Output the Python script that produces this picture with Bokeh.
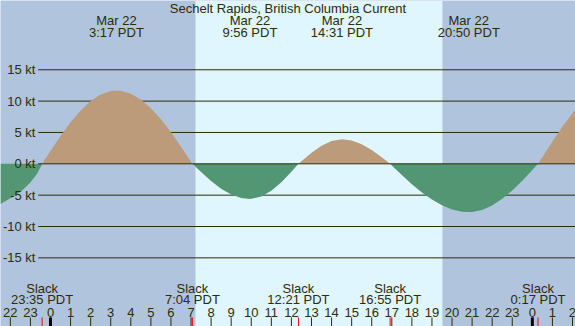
import numpy as np
from bokeh.plotting import figure
from bokeh.models import Range1d
from bokeh.core.properties import value
from bokeh.embed import file_html
from bokeh.resources import INLINE

# ---- data ----
title = "Sechelt Rapids, British Columbia Current"
hours = [-2.49, -2.0, -1.5, -1.0, -0.66, -0.5, -0.417, 0.0, 0.5, 1.0, 1.5, 2.0, 2.5, 3.0,
         3.283, 3.5, 4.0, 4.5, 5.0, 5.5, 6.0, 6.5, 7.0, 7.067, 7.5, 8.0, 8.5, 9.0, 9.5,
         9.933, 10.0, 10.5, 11.0, 11.5, 12.0, 12.35, 12.5, 13.0, 13.5, 14.0, 14.517, 15.0,
         15.5, 16.0, 16.5, 16.917, 17.0, 17.5, 18.0, 18.5, 19.0, 19.5, 20.0, 20.5, 20.833,
         21.0, 21.5, 22.0, 22.5, 23.0, 23.5, 24.0, 24.283, 24.5, 25.0, 25.5, 26.0, 26.15]
knots = [-6.4, -5.5, -4.5, -3.0, -1.55, -0.53, 0.0, 2.06, 4.44, 6.62, 8.5, 10.0, 11.06, 11.62,
         11.7, 11.65, 11.18, 10.24, 8.86, 7.09, 5.02, 2.73, 0.33, 0.0, -1.32, -2.74, -3.96,
         -4.89, -5.44, -5.6, -5.59, -5.22, -4.31, -2.94, -1.26, 0.0, 0.42, 1.77, 2.89, 3.63,
         3.9, 3.71, 3.12, 2.2, 1.05, 0.0, -0.26, -1.79, -3.24, -4.57, -5.71, -6.62, -7.28,
         -7.63, -7.7, -7.68, -7.35, -6.64, -5.58, -4.25, -2.69, -0.99, 0.0, 1.05, 3.55, 5.95,
         8.05, 8.6]
extreme_times = [3.283, 9.933, 14.517, 20.833]
extreme_labels = ["3:17 PDT", "9:56 PDT", "14:31 PDT", "20:50 PDT"]
extreme_date = "Mar 22"
slack_times = [-0.417, 7.067, 12.35, 16.917, 24.283]
slack_labels = ["23:35 PDT", "7:04 PDT", "12:21 PDT", "16:55 PDT", "0:17 PDT"]
sunrise = 7.22
sunset = 19.52
yticks = [15, 10, 5, 0, -5, -10, -15]
hour_ticks = list(range(-2, 27))
midnights = [0, 24]

# ---- styling ----
X0, X1 = -2.49, 26.15
Y0, Y1 = -25.95, 26.05
FG = "#2e2b05"
NIGHT = "#b0c4de"
DAY = "#dff6fe"
FLOOD = "#bc9b7a"
EBB = "#529673"
FONT = value("Liberation Sans")
FS = value("13px")

p = figure(width=575, height=326, output_backend="svg", toolbar_location=None,
           x_range=Range1d(X0, X1), y_range=Range1d(Y0, Y1), min_border=0,
           background_fill_color=NIGHT, border_fill_color=NIGHT, outline_line_color=None)
p.axis.visible = False
p.grid.visible = False

# day band
p.quad(left=[sunrise], right=[sunset], bottom=[Y0], top=[Y1], fill_color=DAY, line_color=None)

# grid lines
grid_y = [y for y in yticks if y != 0]
p.segment(x0=[-0.61] * len(grid_y), x1=[X1] * len(grid_y), y0=grid_y, y1=grid_y,
          line_color=FG, line_width=1)

h = np.array(hours)
k = np.array(knots)
p.varea(x=h, y1=np.zeros_like(k), y2=np.maximum(k, 0), fill_color=FLOOD)
p.varea(x=h, y1=np.zeros_like(k), y2=np.minimum(k, 0), fill_color=EBB)

# zero line on top
p.segment(x0=[-0.61], x1=[X1], y0=[0], y1=[0], line_color=FG, line_width=1)

# y labels
p.text(x=[-0.75] * len(yticks), y=yticks, text=[f"{v} kt" for v in yticks],
       text_align="right", text_baseline="middle", text_color=FG,
       text_font=FONT, text_font_size=FS)

# title
p.text(x=[(X0 + X1) / 2], y=[24.85], text=[title], text_align="center",
       text_baseline="middle", text_color=FG, text_font=FONT, text_font_size=FS)

# extremes labels
p.text(x=extreme_times, y=[22.86] * len(extreme_times), text=[extreme_date] * len(extreme_times),
       text_align="center", text_baseline="middle", text_color=FG, text_font=FONT, text_font_size=FS)
p.text(x=extreme_times, y=[21.0] * len(extreme_times), text=extreme_labels,
       text_align="center", text_baseline="middle", text_color=FG, text_font=FONT, text_font_size=FS)

# slack labels
p.text(x=slack_times, y=[-19.84] * len(slack_times), text=["Slack"] * len(slack_times),
       text_align="center", text_baseline="middle", text_color=FG, text_font=FONT, text_font_size=FS)
p.text(x=slack_times, y=[-21.64] * len(slack_times), text=slack_labels,
       text_align="center", text_baseline="middle", text_color=FG, text_font=FONT, text_font_size=FS)

# hour labels and ticks
p.text(x=hour_ticks, y=[-23.67] * len(hour_ticks), text=[str(t % 24) for t in hour_ticks],
       text_align="center", text_baseline="middle", text_color=FG, text_font=FONT, text_font_size=FS)
p.segment(x0=hour_ticks, x1=hour_ticks, y0=[-24.5] * len(hour_ticks), y1=[Y0] * len(hour_ticks),
          line_color=FG, line_width=1)
p.segment(x0=midnights, x1=midnights, y0=[-24.5] * len(midnights), y1=[Y0] * len(midnights),
          line_color="#000000", line_width=3)
p.segment(x0=slack_times, x1=slack_times, y0=[-24.5] * len(slack_times), y1=[Y0] * len(slack_times),
          line_color="#ff0000", line_width=1)

open("out.html", "w").write(file_html(p, INLINE))
